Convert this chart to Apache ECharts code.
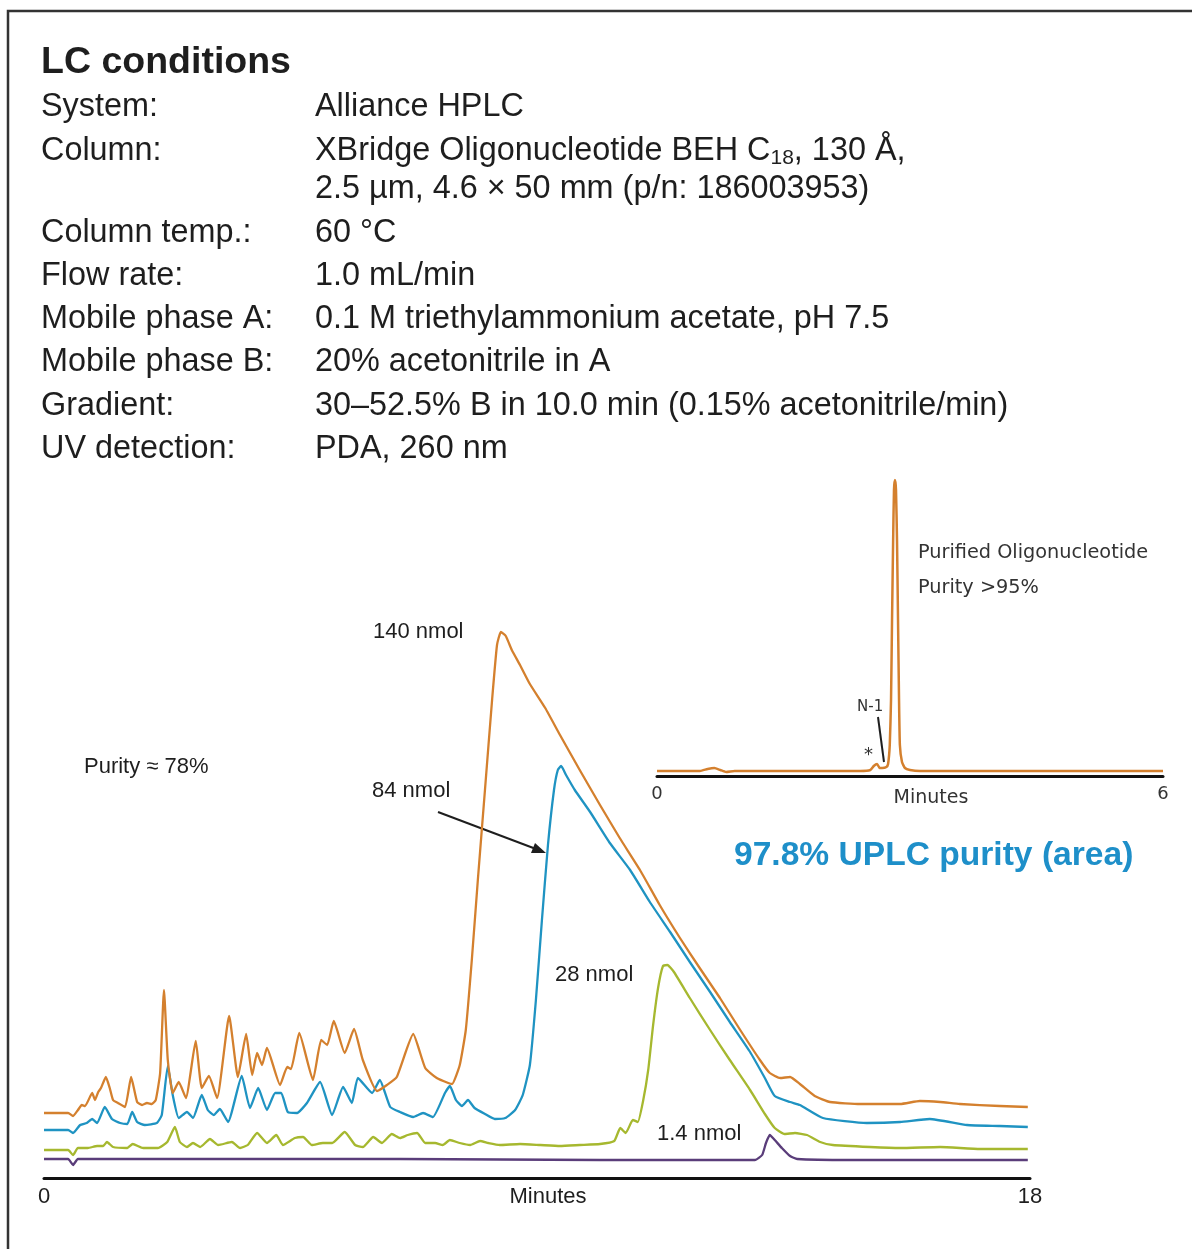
<!DOCTYPE html>
<html>
<head>
<meta charset="utf-8">
<title>LC conditions</title>
<script src="https://cdn.jsdelivr.net/npm/echarts@6/dist/echarts.min.js"></script>
<style>
  html, body { margin: 0; padding: 0; background: #fff; }
  #chart { width: 1192px; height: 1249px; }
</style>
</head>
<body>
<div id="chart"></div>
<script>
// LC conditions table
const conditionLabels = ['System:', 'Column:', '', 'Column temp.:', 'Flow rate:', 'Mobile phase A:', 'Mobile phase B:', 'Gradient:', 'UV detection:']
const conditionValues = [
  'Alliance HPLC',
  '{t|XBridge Oligonucleotide BEH C}{sub|18}{t|, 130 Å,}',
  '2.5 µm, 4.6 × 50 mm (p/n: 186003953)',
  '60 °C',
  '1.0 mL/min',
  '0.1 M triethylammonium acetate, pH 7.5',
  '20% acetonitrile in A',
  '30–52.5% B in 10.0 min (0.15% acetonitrile/min)',
  'PDA, 260 nm'
]
const conditionRowY = [107, 151, 189, 233, 276, 319, 362, 406, 449]

// main chromatogram, [minutes, signal]
const xTicksMain = [0, 18]
const trace140 = [
  [0, 65], [0.44, 65], [0.53, 62], [0.62, 68], [0.69, 73], [0.75, 72], [0.88, 85], [0.93, 78], [0.99, 86],
  [1.04, 90], [1.13, 101], [1.20, 90], [1.26, 78], [1.35, 75], [1.48, 71], [1.59, 101], [1.70, 76],
  [1.79, 73], [1.88, 75], [1.97, 74], [2.04, 78], [2.12, 105], [2.19, 188], [2.26, 118], [2.35, 85],
  [2.46, 96], [2.59, 80], [2.77, 137], [2.88, 90], [3.01, 102], [3.16, 80], [3.38, 162], [3.54, 101],
  [3.69, 144], [3.80, 103], [3.89, 125], [3.98, 113], [4.07, 130], [4.31, 93], [4.44, 111], [4.51, 109],
  [4.66, 145], [4.91, 98], [5.06, 138], [5.17, 133], [5.29, 157], [5.49, 125], [5.66, 149], [5.82, 118],
  [6.08, 87], [6.26, 93], [6.44, 101], [6.74, 144], [6.96, 110], [7.17, 100], [7.38, 95], [7.45, 94],
  [7.59, 113], [7.70, 148], [7.81, 218], [7.92, 298], [8.05, 388], [8.18, 478], [8.27, 533], [8.34, 546],
  [8.43, 542], [8.54, 528], [8.69, 513], [8.87, 494], [9.15, 470], [9.42, 443], [9.78, 408], [10.15, 373],
  [10.51, 340], [10.88, 308], [11.24, 273], [11.61, 240], [11.97, 210], [12.34, 180], [12.71, 148],
  [13.07, 118], [13.25, 105], [13.44, 100], [13.62, 101], [13.80, 94], [14.07, 82], [14.35, 76],
  [14.90, 74], [15.63, 74], [15.99, 77], [16.36, 76], [16.72, 74], [17.45, 72], [17.96, 71]
]
const trace84 = [
  [0, 48], [0.44, 48], [0.53, 45], [0.66, 53], [0.78, 55], [0.88, 59], [0.97, 55], [1.11, 71], [1.24, 59],
  [1.39, 55], [1.52, 54], [1.61, 66], [1.70, 56], [1.84, 53], [2.06, 55], [2.15, 63], [2.26, 112],
  [2.35, 83], [2.46, 60], [2.61, 66], [2.72, 60], [2.88, 83], [2.99, 68], [3.10, 63], [3.21, 69],
  [3.36, 56], [3.61, 102], [3.76, 70], [3.91, 90], [4.07, 68], [4.22, 85], [4.33, 85], [4.45, 66],
  [4.62, 65], [4.80, 75], [5.04, 96], [5.26, 63], [5.46, 91], [5.62, 75], [5.73, 100], [5.99, 85],
  [6.13, 98], [6.32, 71], [6.50, 66], [6.74, 61], [6.92, 65], [7.10, 61], [7.32, 85], [7.41, 92],
  [7.52, 78], [7.63, 72], [7.74, 78], [7.86, 70], [8.05, 64], [8.23, 59], [8.42, 60], [8.60, 68],
  [8.74, 83], [8.87, 113], [8.98, 178], [9.09, 258], [9.20, 333], [9.31, 388], [9.38, 408], [9.44, 412],
  [9.53, 403], [9.69, 388], [9.97, 366], [10.33, 335], [10.70, 308], [11.06, 276], [11.43, 246],
  [11.79, 216], [12.16, 186], [12.52, 156], [12.89, 126], [13.16, 100], [13.34, 82], [13.62, 76],
  [13.80, 73], [14.22, 60], [15.02, 55], [15.63, 56], [16.17, 59], [16.85, 53], [17.45, 52], [17.96, 51]
]
const trace28 = [
  [0, 28], [0.44, 28], [0.53, 23], [0.62, 30], [0.80, 30], [0.97, 32], [1.08, 32], [1.15, 36], [1.26, 31],
  [1.52, 30], [1.62, 34], [1.81, 30], [2.08, 30], [2.25, 36], [2.39, 51], [2.48, 36], [2.61, 31],
  [2.72, 35], [2.85, 31], [3.03, 39], [3.18, 33], [3.43, 36], [3.58, 30], [3.72, 33], [3.89, 45],
  [4.07, 35], [4.24, 43], [4.36, 33], [4.58, 40], [4.73, 41], [4.89, 33], [5.09, 35], [5.26, 35],
  [5.49, 46], [5.68, 33], [5.82, 31], [6.01, 41], [6.17, 35], [6.35, 44], [6.50, 40], [6.64, 43],
  [6.81, 45], [6.96, 35], [7.14, 35], [7.28, 33], [7.41, 38], [7.59, 35], [7.78, 33], [7.96, 37],
  [8.11, 35], [8.32, 33], [8.69, 34], [9.06, 33], [9.42, 32], [9.78, 33], [10.15, 34], [10.41, 37],
  [10.52, 50], [10.62, 45], [10.75, 58], [10.84, 56], [10.94, 78], [11.03, 108], [11.12, 153],
  [11.21, 190], [11.30, 212], [11.38, 213], [11.50, 206], [11.79, 180], [12.16, 148], [12.52, 118],
  [12.89, 88], [13.16, 64], [13.34, 50], [13.52, 44], [13.71, 45], [13.93, 43], [14.17, 36], [14.40, 33],
  [15.08, 31], [15.63, 30], [16.36, 31], [17.09, 29], [17.96, 29]
]
const trace1_4 = [
  [0, 19], [0.44, 19], [0.53, 13], [0.62, 19], [6.50, 19], [10.15, 18], [12.98, 18], [13.11, 23],
  [13.18, 35], [13.25, 43], [13.34, 38], [13.47, 30], [13.62, 22], [13.75, 19], [14.71, 18], [17.96, 18]
]

// inset: purified oligonucleotide
const xTicksInset = [0, 6]
const tracePurified = [
  [0, 5], [0.51, 5], [0.60, 7], [0.68, 8], [0.75, 6], [0.82, 4], [0.92, 5], [2.41, 5], [2.53, 6],
  [2.57, 10], [2.61, 12], [2.64, 8], [2.67, 8], [2.72, 9], [2.74, 12], [2.76, 31], [2.775, 76],
  [2.787, 156], [2.80, 236], [2.81, 286], [2.822, 296], [2.834, 286], [2.846, 236], [2.858, 156],
  [2.87, 76], [2.88, 31], [2.905, 14], [2.94, 8], [3.0, 6], [3.12, 5], [6, 5]
]

const sans = 'Liberation Sans, Arial, sans-serif'
const dejavu = 'DejaVu Sans, Verdana, sans-serif'
const ink = '#1e1e1e'

const chart = echarts.init(document.getElementById('chart'))

function label(text, x, y, font, opts) {
  return {
    type: 'text',
    x: x,
    y: y,
    style: Object.assign({ text: text, font: font, fill: ink, verticalAlign: 'middle' }, opts || {})
  }
}

const graphics = [
  { type: 'rect', shape: { x: 8, y: 11, width: 1200, height: 1260 }, style: { fill: 'none', stroke: '#333', lineWidth: 2.5 }, silent: true },
  label('LC conditions', 41, 63, 'bold 37.5px ' + sans)
]
conditionLabels.forEach((t, i) => {
  if (t) graphics.push(label(t, 41, conditionRowY[i], '32.4px ' + sans))
  graphics.push({
    type: 'text',
    x: 315,
    y: conditionRowY[i],
    style: {
      text: conditionValues[i].indexOf('{') === 0 ? conditionValues[i] : '{t|' + conditionValues[i] + '}',
      fill: ink,
      verticalAlign: 'middle',
      rich: {
        t: { font: '32.4px ' + sans, fill: ink, lineHeight: 36, verticalAlign: 'middle' },
        sub: { font: '21px ' + sans, fill: ink, lineHeight: 20, verticalAlign: 'bottom' }
      }
    }
  })
})

// annotations
graphics.push(
  label('Purity ≈ 78%', 84, 767, '22px ' + sans),
  label('140 nmol', 373, 632, '22px ' + sans),
  label('84 nmol', 372, 791, '22px ' + sans),
  label('28 nmol', 555, 975, '22px ' + sans),
  label('1.4 nmol', 657, 1134, '22px ' + sans),
  label('97.8% UPLC purity (area)', 734, 856, 'bold 33.6px ' + sans, { fill: '#1e8fc9' }),
  { type: 'line', shape: { x1: 438, y1: 812, x2: 536, y2: 849 }, style: { stroke: ink, lineWidth: 2 } },
  { type: 'polygon', shape: { points: [[546, 853], [531, 853], [535, 843]] }, style: { fill: ink } },
  // axis titles
  label('Minutes', 548, 1197, '22px ' + sans, { align: 'center' }),
  label('Minutes', 931, 798, '19px ' + dejavu, { fill: '#333', align: 'center' }),
  label('Purified Oligonucleotide', 918, 553, '19.3px ' + dejavu, { fill: '#333' }),
  label('Purity >95%', 918, 588, '19.3px ' + dejavu, { fill: '#333' }),
  label('N-1', 857, 707, '15px ' + dejavu, { fill: '#333' }),
  label('*', 864, 755, '18px ' + dejavu, { fill: '#333' }),
  { type: 'line', shape: { x1: 878, y1: 717, x2: 884, y2: 762 }, style: { stroke: ink, lineWidth: 2 } }
)

function lineSeries(name, data, color, axisIndex, width) {
  return {
    name: name,
    type: 'line',
    xAxisIndex: axisIndex,
    yAxisIndex: axisIndex,
    data: data,
    showSymbol: false,
    smooth: 0.15,
    lineStyle: { color: color, width: width || 2.3, join: 'round' },
    silent: true
  }
}

chart.setOption({
  animation: false,
  backgroundColor: '#fff',
  grid: [
    { left: 44, right: 162, top: 618, bottom: 71 },
    { left: 657, right: 29, top: 476, bottom: 473 }
  ],
  xAxis: [
    {
      gridIndex: 0,
      type: 'value',
      min: xTicksMain[0],
      max: xTicksMain[1],
      interval: xTicksMain[1] - xTicksMain[0],
      axisLine: { lineStyle: { color: '#111', width: 3 } },
      axisTick: { show: false },
      splitLine: { show: false },
      axisLabel: { fontSize: 22, fontFamily: sans, color: ink, margin: 8 }
    },
    {
      gridIndex: 1,
      type: 'value',
      min: xTicksInset[0],
      max: xTicksInset[1],
      interval: xTicksInset[1] - xTicksInset[0],
      axisLine: { lineStyle: { color: '#111', width: 3 } },
      axisTick: { show: false },
      splitLine: { show: false },
      axisLabel: { fontSize: 18, fontFamily: dejavu, color: '#333', margin: 9 }
    }
  ],
  yAxis: [
    { gridIndex: 0, type: 'value', min: 0, max: 560, show: false },
    { gridIndex: 1, type: 'value', min: 0, max: 300, show: false }
  ],
  series: [
    lineSeries('1.4 nmol', trace1_4, '#5a3d7a', 0),
    lineSeries('28 nmol', trace28, '#a6b82f', 0),
    lineSeries('84 nmol', trace84, '#1f93c2', 0),
    lineSeries('140 nmol', trace140, '#d4802e', 0),
    lineSeries('Purified', tracePurified, '#d4802e', 1, 2.5)
  ],
  graphic: graphics
})
</script>
</body>
</html>
